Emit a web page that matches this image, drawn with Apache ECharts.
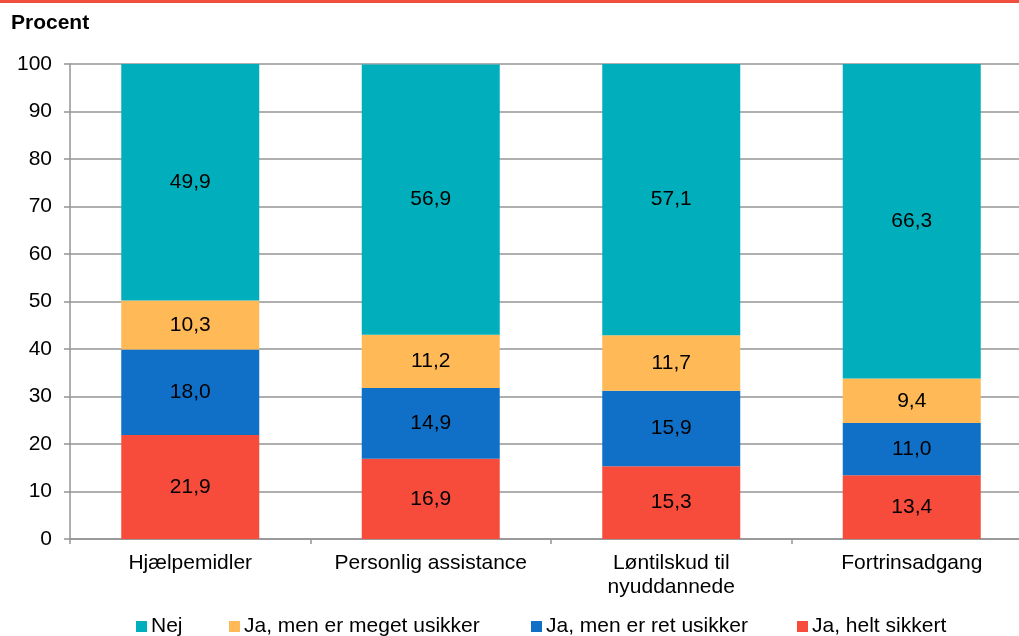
<!DOCTYPE html>
<html>
<head>
<meta charset="utf-8">
<script src="https://cdn.jsdelivr.net/npm/echarts@6/dist/echarts.min.js"></script>
<style>
  html, body { margin: 0; padding: 0; background: #fff; }
  #chart { width: 1019px; height: 636px; }
</style>
</head>
<body>
<div id="chart"></div>
<script>
(function () {
    // data
    const categories = ['Hjælpemidler', 'Personlig assistance', 'Løntilskud til\nnyuddannede', 'Fortrinsadgang']
    const seriesNames = ['Nej', 'Ja, men er meget usikker', 'Ja, men er ret usikker', 'Ja, helt sikkert']
    const nej = [49.9, 56.9, 57.1, 66.3]
    const megetUsikker = [10.3, 11.2, 11.7, 9.4]
    const retUsikker = [18.0, 14.9, 15.9, 11.0]
    const heltSikkert = [21.9, 16.9, 15.3, 13.4]
    const yTicks = [0, 10, 20, 30, 40, 50, 60, 70, 80, 90, 100]

    const colors = {
        'Nej': '#00afbb',
        'Ja, men er meget usikker': '#ffb957',
        'Ja, men er ret usikker': '#1070c8',
        'Ja, helt sikkert': '#f74c3c'
    }
    const font = 'Arial, "Liberation Sans", sans-serif'
    const fs = 21

    const chart = echarts.init(document.getElementById('chart'))

    function makeSeries(name, data) {
        return {
            name: name,
            type: 'bar',
            stack: 'total',
            barWidth: 138,
            data: data,
            itemStyle: { color: colors[name] },
            label: {
                show: true,
                position: 'inside',
                color: '#000',
                fontSize: fs,
                fontFamily: font,
                formatter: p => p.value.toFixed(1).replace('.', ',')
            }
        }
    }

    // legend placed item by item like the original
    const legendLeft = [136, 229, 531, 797]
    const legends = seriesNames.map((n, i) => ({
        data: [n],
        left: legendLeft[i],
        top: 616,
        padding: 0,
        icon: 'rect',
        itemWidth: 11,
        itemHeight: 11,
        textStyle: { fontSize: fs, color: '#000', fontFamily: font, padding: [0, 0, 0, -1] }
    }))

    const option = {
        animation: false,
        textStyle: { fontFamily: font },
        graphic: [
            { type: 'rect', left: 0, top: 0, shape: { width: 1019, height: 3 }, style: { fill: '#f04e3e' } },
            { type: 'text', left: 11, top: 13, style: { text: 'Procent', font: 'bold ' + fs + 'px ' + font, fill: '#000' } }
        ],
        legend: legends,
        grid: { left: 70, top: 64, width: 962, height: 475, outerBoundsMode: 'none' },
        xAxis: {
            type: 'category',
            data: categories,
            axisLine: { lineStyle: { color: '#949494', width: 1.5 } },
            axisTick: { show: true, length: 5, lineStyle: { color: '#949494', width: 1.5 } },
            axisLabel: { color: '#000', fontSize: fs, margin: 12, lineHeight: 24, interval: 0 }
        },
        yAxis: {
            type: 'value',
            min: yTicks[0],
            max: yTicks[yTicks.length - 1],
            interval: 10,
            axisLine: { show: true, lineStyle: { color: '#949494', width: 1.5 } },
            axisTick: { show: true, length: 6, lineStyle: { color: '#949494', width: 1.5 } },
            axisLabel: { color: '#000', fontSize: fs, margin: 18 },
            splitLine: { lineStyle: { color: '#949494', width: 1.5 } }
        },
        series: [
            makeSeries('Ja, helt sikkert', heltSikkert),
            makeSeries('Ja, men er ret usikker', retUsikker),
            makeSeries('Ja, men er meget usikker', megetUsikker),
            makeSeries('Nej', nej)
        ]
    }
    chart.setOption(option)
})()
</script>
</body>
</html>
